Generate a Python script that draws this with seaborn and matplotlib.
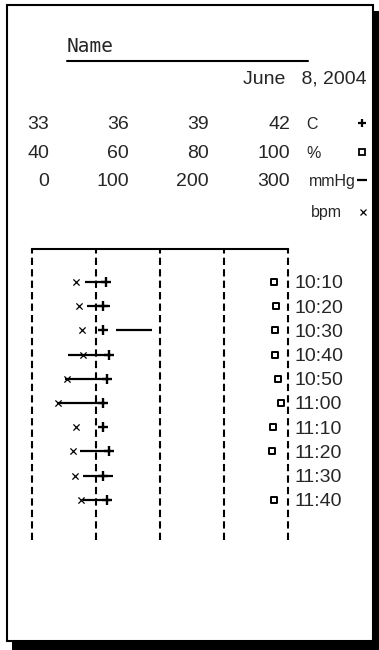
import numpy as np
import pandas as pd
import matplotlib
matplotlib.use("Agg")
import matplotlib.pyplot as plt
from matplotlib.patches import Rectangle
import seaborn as sns

#### data ####
times = ["10:10", "10:20", "10:30", "10:40", "10:50",
         "11:00", "11:10", "11:20", "11:30", "11:40"]
temp = [35.6, 35.5, 35.5, 35.7, 35.65, 35.5, 35.5, 35.7, 35.5, 35.65]      # C
spo2 = [96.7, 97.2, 97.0, 96.9, 97.7, 98.4, 96.6, 96.3, np.nan, 96.8]     # %
bp_low = [62, 65, 99, 42, 39, 29, np.nan, 56, 60, 60]                     # mmHg
bp_high = [88, 91, 141, 93, 89, 86, np.nan, 93, 95, 91]                   # mmHg
pulse = [52, 55, 59, 60, 41, 31, 51, 48, 50, 58]                          # bpm

temp_ticks = [33, 36, 39, 42]
spo2_ticks = [40, 60, 80, 100]
bp_ticks = [0, 100, 200, 300]
units = ["C", "%", "mmHg", "bpm"]

df = pd.DataFrame({"time": times, "temp": temp, "spo2": spo2,
                   "bp_low": bp_low, "bp_high": bp_high, "pulse": pulse})
df["row"] = np.arange(len(df))

sns.set_theme(style="white")
plt.rcParams["font.family"] = ["Liberation Sans", "DejaVu Sans"]

W, H = 379, 650
fig = plt.figure(figsize=(W / 100, H / 100), dpi=100)
fig.patch.set_facecolor("white")

# page overlay in pixel units
ax_o = fig.add_axes([0, 0, 1, 1], zorder=0)
ax_o.set_xlim(0, W)
ax_o.set_ylim(H, 0)
ax_o.axis("off")
ax_o.add_patch(Rectangle((12, 11), W - 12, H - 11, facecolor="black", edgecolor="none"))
ax_o.add_patch(Rectangle((7, 5), 366, 636, facecolor="white", edgecolor="black", lw=1.5))

ax_o.text(67, 51.5, "Name", family="DejaVu Sans Mono", fontsize=14, va="baseline")
ax_o.plot([67, 308], [60.5, 60.5], color="black", lw=1.5)
ax_o.text(367, 84, "June   8, 2004", fontsize=14, ha="right", va="baseline")

col_x = [49, 129, 209, 290]
row_y = [129, 157.5, 186, 217]
for r, ticks in enumerate([temp_ticks, spo2_ticks, bp_ticks]):
    for cx, t in zip(col_x, ticks):
        ax_o.text(cx, row_y[r], str(t), fontsize=14, ha="right", va="baseline")
unit_x = [306, 306, 309, 311]
for ux, uy, u in zip(unit_x, row_y, units):
    ax_o.text(ux, uy, u, fontsize=11.5, va="baseline",
              family=["Liberation Sans Narrow", "Liberation Sans"])
# legend symbols
ax_o.plot(362, 123, marker="+", ms=6, mew=1.6, color="black")
ax_o.plot(362, 151.5, marker="s", ms=4.8, mew=1.3, mfc="white", mec="black")
ax_o.plot(361.5, 180, marker="_", ms=6.5, mew=1.6, color="black")
ax_o.plot(363, 212, marker="x", ms=4.5, mew=0.9, color="black")

# chart axes
rect = [32 / W, 1 - 540 / H, 256 / W, 291 / H]
ax = fig.add_axes(rect, zorder=2)
ax.patch.set_visible(False)
ax.set_xlim(0, 300)
for s in ["left", "right", "bottom"]:
    ax.spines[s].set_visible(False)
ax.spines["top"].set_linewidth(1.5)
ax.spines["top"].set_color("black")
for gx in np.linspace(0, 300, 5):
    ax.axvline(gx, color="black", lw=1.5, ls=(0, (3.5, 2)), clip_on=False)

# blood pressure ranges and pulse share the 0-300 scale
bp = df.dropna(subset=["bp_low", "bp_high"])
ax.hlines(bp["row"], bp["bp_low"], bp["bp_high"], color="black", lw=1.6)
sns.scatterplot(data=df, x="pulse", y="row", ax=ax, marker="x", s=20,
                color="black", linewidth=0.9, zorder=3)

ax_t = fig.add_axes(rect, zorder=3, sharey=ax)
sns.scatterplot(data=df, x="temp", y="row", ax=ax_t, marker="+", s=45,
                color="black", linewidth=1.7)
ax_t.set_xlim(temp_ticks[0], temp_ticks[-1])
ax_t.axis("off")

ax_s = fig.add_axes(rect, zorder=3, sharey=ax)
sns.scatterplot(data=df.dropna(subset=["spo2"]), x="spo2", y="row", ax=ax_s,
                marker="s", s=24, facecolor="white", edgecolor="black", linewidth=1.4)
ax_s.set_xlim(spo2_ticks[0], spo2_ticks[-1])
ax_s.axis("off")

ax.set_ylim(10.66, -1.36)
ax.set_xticks([])
ax.set_yticks(df["row"])
ax.set_yticklabels(times, fontsize=14)
ax.yaxis.tick_right()
ax.tick_params(axis="y", length=0, pad=5)
ax.set_xlabel("")
ax.set_ylabel("")

fig.savefig("out.png", dpi=100)
